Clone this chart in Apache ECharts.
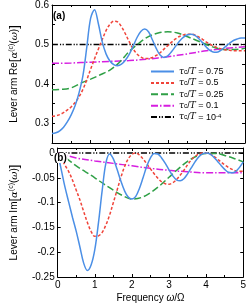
<!DOCTYPE html>
<html><head><meta charset="utf-8">
<script src="https://cdn.jsdelivr.net/npm/echarts@6/dist/echarts.min.js"></script>
<style>html,body{margin:0;padding:0;background:#fff}#c{width:249px;height:304px}</style>
</head><body><div id="c"></div>
<script>
const freqFine = [0,0.1,0.2,0.3,0.4,0.5,0.6,0.7,0.8,0.9,1,1.1,1.2,1.3,1.4,1.5,1.6,1.7,1.8,1.9,2,2.1,2.2,2.3,2.4,2.5,2.6,2.7,2.8,2.9,3,3.1,3.2,3.3,3.4,3.5,3.6,3.7,3.8,3.9,4,4.1,4.2,4.3,4.4,4.5,4.6,4.7,4.8,4.9,5];
const freqMid = [0,0.25,0.5,0.75,1,1.25,1.5,1.75,2,2.25,2.5,2.75,3,3.25,3.5,3.75,4,4.25,4.5,4.75,5];
const freqCoarse = [0,0.5,1,1.5,2,2.5,3,3.5,4,4.5,5];
const freqEnds = [0,5];

const seriesNames = ['0.75','0.5','0.25','0.1','1e-4'];

// Re part (panel a)
const reTau075 = [0.274,0.276,0.281,0.29,0.304,0.322,0.345,0.377,0.42,0.492,0.566,0.588,0.553,0.507,0.476,0.458,0.449,0.446,0.45,0.46,0.475,0.495,0.517,0.533,0.539,0.532,0.512,0.49,0.473,0.467,0.471,0.482,0.495,0.508,0.518,0.524,0.526,0.523,0.515,0.504,0.493,0.484,0.48,0.481,0.487,0.495,0.503,0.51,0.514,0.516,0.516];
const reTau05 = [0.318,0.319,0.322,0.327,0.334,0.342,0.353,0.367,0.386,0.41,0.437,0.463,0.488,0.512,0.535,0.551,0.559,0.557,0.545,0.527,0.507,0.489,0.476,0.468,0.464,0.464,0.467,0.472,0.479,0.488,0.497,0.506,0.514,0.52,0.524,0.526,0.526,0.524,0.519,0.513,0.506,0.5,0.495,0.491,0.488,0.486,0.485,0.484,0.484,0.484,0.484];
const reTau025 = [0.385,0.386,0.39,0.402,0.412,0.423,0.435,0.455,0.482,0.503,0.52,0.529,0.532,0.529,0.52,0.51,0.5,0.491,0.487,0.487,0.49];
const reTau01 = [0.452,0.453,0.455,0.457,0.459,0.463,0.469,0.476,0.484,0.49,0.494];
const reTau1e4 = [0.5,0.5];

// Im part (panel b)
const imTau075 = [0,-0.035,-0.07,-0.1,-0.13,-0.158,-0.19,-0.222,-0.237,-0.226,-0.195,-0.14,-0.075,-0.02,-0.002,-0.012,-0.033,-0.056,-0.076,-0.089,-0.093,-0.088,-0.072,-0.05,-0.027,-0.01,-0.001,-0.002,-0.01,-0.021,-0.034,-0.046,-0.054,-0.056,-0.052,-0.042,-0.03,-0.018,-0.008,-0.002,0,-0.002,-0.008,-0.016,-0.025,-0.033,-0.039,-0.04,-0.037,-0.029,-0.018];
const imTau05 = [0,-0.012,-0.025,-0.038,-0.055,-0.075,-0.095,-0.118,-0.14,-0.158,-0.168,-0.167,-0.16,-0.145,-0.125,-0.1,-0.075,-0.05,-0.028,-0.012,-0.003,0,-0.004,-0.012,-0.022,-0.032,-0.042,-0.051,-0.058,-0.062,-0.063,-0.06,-0.054,-0.045,-0.035,-0.024,-0.014,-0.007,-0.002,0,0,-0.002,-0.006,-0.012,-0.018,-0.024,-0.029,-0.033,-0.036,-0.037,-0.037];
const imTau025 = [0,-0.012,-0.026,-0.038,-0.05,-0.063,-0.075,-0.086,-0.093,-0.09,-0.08,-0.066,-0.049,-0.032,-0.017,-0.006,-0.001,-0.001,-0.005,-0.011,-0.018];
const imTau01 = [0,-0.01,-0.016,-0.021,-0.026,-0.031,-0.035,-0.038,-0.04,-0.04,-0.04];
const imTau1e4 = [0,0];

const reTicks = [0.3,0.4,0.5,0.6];
const imTicks = [0,-0.05,-0.1,-0.15,-0.2,-0.25];

const colors = ['#4b8fe6','#f0443a','#2fa046','#d61ee0','#000000'];
const dashes = ['solid',[3,2],[7,3],[7,2,1.5,2],[6,2,1.2,1.5,1.2,2]];

function pairs(xs, ys){ return xs.map((x,i)=>[x, ys[i]]); }

const FONT = 'Liberation Sans, Arial, sans-serif';
const chart = echarts.init(document.getElementById('c'), null, {renderer:'canvas'});

const gridA = {left:47, right:4, top:5, height:138};
const gridB = {left:47, right:4, top:148, height:130};

function xAx(gi, pos, labels, name){
  return {type:'value', gridIndex:gi, position:pos, min:0, max:5, interval:1,
    axisLine:{show:true, onZero:false, lineStyle:{color:'#000', width:1}},
    axisTick:{show:true, inside:true, length:3, lineStyle:{color:'#000'}},
    minorTick:{show:true, splitNumber:2, length:2, lineStyle:{color:'#000'}},
    splitLine:{show:false},
    axisLabel:{show:labels, color:'#000', fontSize:10, fontFamily:FONT, margin:3},
    name: name||'', nameLocation:'middle', nameGap:16,
    nameTextStyle:{color:'#000', fontSize:10, fontFamily:FONT, rich:{i:{fontStyle:'italic', fontSize:10, fontFamily:FONT, color:'#000'}}}
  };
}
function yAx(gi, pos, labels, mn, mx, iv, fmt, name){
  return {type:'value', gridIndex:gi, position:pos, min:mn, max:mx, interval:iv,
    axisLine:{show:true, onZero:false, lineStyle:{color:'#000', width:1}},
    axisTick:{show:true, inside:true, length:3, lineStyle:{color:'#000'}},
    splitLine:{show:false},
    axisLabel:{show:labels, color:'#000', fontSize:10, fontFamily:FONT, margin:3, formatter:fmt,
      showMaxLabel:true, showMinLabel:true},
    name: name||'', nameLocation:'middle', nameGap:31, nameRotate:90,
    nameTextStyle:{color:'#000', fontSize:10, fontFamily:FONT,
      rich:{
        br:{fontSize:13, fontFamily:FONT, color:'#000'},
        i:{fontStyle:'italic', fontSize:10, fontFamily:'DejaVu Serif, serif', color:'#000'},
        sup:{fontSize:7, fontFamily:FONT, color:'#000', verticalAlign:'top'},
        n:{fontSize:10, fontFamily:FONT, color:'#000'}
      }}
  };
}
function reFmt(v){ return reTicks.some(t=>Math.abs(t-v)<1e-6) ? v.toFixed(1) : ''; }
function imFmt(v){ const t = imTicks.find(t=>Math.abs(t-v)<1e-6); return t===undefined ? '' : String(t); }

const reSets = [[freqFine,reTau075],[freqFine,reTau05],[freqMid,reTau025],[freqCoarse,reTau01],[freqEnds,reTau1e4]];
const imSets = [[freqFine,imTau075],[freqFine,imTau05],[freqMid,imTau025],[freqCoarse,imTau01],[freqEnds,imTau1e4]];

const series = [];
reSets.forEach((s,k)=>series.push({type:'line', name:seriesNames[k], xAxisIndex:0, yAxisIndex:0,
  data:pairs(s[0],s[1]), symbol:'none', smooth:0.35, z:10-k,
  lineStyle:{color:colors[k], width:1.5, type:dashes[k]}, itemStyle:{color:colors[k]}}));
imSets.forEach((s,k)=>series.push({type:'line', name:seriesNames[k], xAxisIndex:2, yAxisIndex:2,
  data:pairs(s[0],s[1]), symbol:'none', smooth:0.35, z:10-k,
  lineStyle:{color:colors[k], width:1.5, type:dashes[k]}, itemStyle:{color:colors[k]}}));

const nameLabel = 'Lever arm ';
chart.setOption({
  animation:false,
  backgroundColor:'#fff',
  grid:[gridA, gridB],
  title:[
    {text:'(a)', left:53, top:11, textStyle:{fontSize:10, fontWeight:'bold', fontFamily:FONT, color:'#000'}, padding:0},
    {text:'(b)', left:53, top:153, backgroundColor:'#fff', textStyle:{fontSize:10, fontWeight:'bold', fontFamily:FONT, color:'#000'}, padding:[0,1,0,1], z:20}
  ],
  xAxis:[
    xAx(0,'bottom',false), xAx(0,'top',false),
    xAx(1,'bottom',true,'Frequency {i|ω}/Ω'), xAx(1,'top',false)
  ],
  yAxis:[
    yAx(0,'left',true,0.25,0.6,0.05,reFmt, nameLabel+'Re{br|[}{i|α}{sup|(c)}{n|(}{i|ω}{n|)}{br|]}'),
    yAx(0,'right',false,0.25,0.6,0.05,reFmt),
    yAx(1,'left',true,-0.25,0.01,0.05,imFmt, nameLabel+'Im{br|[}{i|α}{sup|(c)}{n|(}{i|ω}{n|)}{br|]}'),
    yAx(1,'right',false,-0.25,0.01,0.05,imFmt)
  ],
  legend:{
    data:seriesNames, orient:'vertical', left:150, top:67, itemWidth:23, itemHeight:8, itemGap:2.4,
    padding:0,
    itemStyle:{opacity:0},
    textStyle:{fontSize:9, fontFamily:FONT, color:'#000', lineHeight:8,
      rich:{
        g:{fontSize:9, fontFamily:'DejaVu Serif, serif', fontStyle:'italic', color:'#000'},
        sub:{fontSize:6.5, fontFamily:FONT, color:'#000', verticalAlign:'bottom'},
        it:{fontSize:9, fontFamily:'DejaVu Serif, serif', fontStyle:'italic', color:'#000'},
        sup:{fontSize:6, fontFamily:FONT, color:'#000', verticalAlign:'top'},
        t:{fontSize:9, fontFamily:FONT, color:'#000'}
      }},
    formatter:function(n){
      const val = n==='1e-4' ? '10{sup|-4}' : '{t|'+n+'}';
      return '{g|τ}{sub|c}{t|/}{it|T}{t| = }'+val;
    }
  },
  series:series
});
</script></body></html>
